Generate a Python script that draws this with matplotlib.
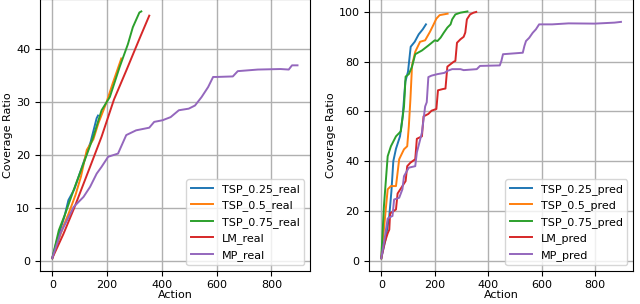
import matplotlib.pyplot as plt

# left panel: real coverage
tsp025_real_x = [0, 15, 30, 45, 59, 80, 100, 120, 140, 162, 167]
tsp025_real_y = [0.5, 3.5, 6.0, 8.5, 11.5, 13.5, 16.5, 19.5, 22.5, 27.0, 27.5]
tsp05_real_x = [0, 20, 40, 60, 85, 105, 126, 150, 168, 198, 220, 252]
tsp05_real_y = [0.5, 3.5, 6.5, 9.0, 12.5, 16.0, 21.0, 23.0, 26.0, 30.0, 33.5, 38.3]
tsp075_real_x = [0, 24, 48, 78, 114, 150, 180, 210, 246, 276, 294, 318, 325]
tsp075_real_y = [0.5, 5.8, 9.0, 13.4, 18.4, 23.5, 28.5, 31.0, 36.7, 41.0, 44.2, 47.0, 47.2]
lm_real_x = [0, 40, 80, 138, 180, 225, 270, 318, 354]
lm_real_y = [0.5, 5.0, 10.0, 17.8, 23.5, 30.5, 36.0, 42.0, 46.4]
mp_real_x = [0, 30, 54, 78, 114, 138, 162, 180, 204, 240, 270, 306, 354, 372, 402,
             432, 462, 498, 521, 545, 569, 587, 600, 659, 677, 750, 833, 863, 875, 895]
mp_real_y = [0.5, 5.2, 7.7, 10.2, 12.1, 14.0, 16.5, 17.8, 19.7, 20.3, 23.8, 24.7, 25.2,
             26.3, 26.6, 27.2, 28.5, 28.8, 29.4, 31.0, 32.9, 34.8, 34.8, 34.9, 35.9,
             36.2, 36.3, 36.2, 37.0, 37.0]

# right panel: predicted coverage
tsp025_pred_x = [0, 15, 30, 38, 45, 55, 70, 80, 90, 100, 110, 125, 140, 155, 167]
tsp025_pred_y = [1, 8, 18, 28, 40, 45, 50, 58, 72, 76, 86, 88, 91, 93, 95]
tsp05_pred_x = [0, 18, 24, 36, 55, 67, 85, 97, 103, 109, 115, 127, 145, 164, 182,
                194, 206, 218, 248]
tsp05_pred_y = [1, 22, 28.7, 30, 30, 40.8, 44.8, 46, 54, 65, 78.5, 84, 88, 88.6, 92,
                94.6, 97.3, 98.7, 99.3]
tsp075_pred_x = [0, 10, 24, 36, 55, 73, 85, 91, 103, 115, 127, 152, 176, 200, 210,
                 222, 234, 247, 259, 265, 277, 296, 322]
tsp075_pred_y = [1, 22, 42, 46, 50, 52, 62, 74, 75, 78, 83, 84.5, 86.5, 88.6, 88.3,
                 89.7, 91.7, 93.7, 95, 97, 99, 99.7, 100.2]
lm_pred_x = [0, 12, 24, 30, 33, 55, 61, 79, 91, 97, 109, 127, 133, 152, 158, 176,
             188, 206, 212, 230, 240, 247, 259, 271, 277, 283, 296, 308, 314, 320,
             332, 345, 355]
lm_pred_y = [1, 7, 11, 12.5, 19, 20.6, 27, 30, 32, 38, 39.4, 40.8, 49, 50, 58, 59,
             60.3, 61, 68.5, 69, 69.2, 78, 79, 80, 80.3, 87.6, 89, 90, 91.7, 97, 99,
             99.7, 100]
mp_pred_x = [0, 12, 24, 42, 48, 67, 79, 85, 103, 127, 133, 139, 152, 164, 170, 176,
             188, 210, 236, 247, 265, 296, 308, 357, 369, 443, 449, 455, 529, 535,
             541, 553, 566, 578, 590, 639, 700, 798, 872, 896]
mp_pred_y = [1, 8.5, 17, 18, 24.6, 25.3, 28.7, 34, 37.4, 38, 43.5, 46, 51.5, 62,
             63.7, 73.8, 74.4, 75, 75.5, 76.3, 77, 77, 76.6, 77, 78.3, 78.5, 80.3,
             83, 83.6, 86.3, 88.3, 89.6, 91.6, 93, 95, 95, 95.4, 95.3, 95.7, 96]

colors = ["#1f77b4", "#ff7f0e", "#2ca02c", "#d62728", "#9467bd"]
real_labels = ["TSP_0.25_real", "TSP_0.5_real", "TSP_0.75_real", "LM_real", "MP_real"]
pred_labels = ["TSP_0.25_pred", "TSP_0.5_pred", "TSP_0.75_pred", "LM_pred", "MP_pred"]

plt.rcParams["font.size"] = 8

fig = plt.figure(figsize=(6.4, 3.04), dpi=100)
ax1 = fig.add_axes([0.0625, 0.110, 0.4215, 0.893])
ax2 = fig.add_axes([0.577, 0.110, 0.412, 0.893])

real = [(tsp025_real_x, tsp025_real_y), (tsp05_real_x, tsp05_real_y),
        (tsp075_real_x, tsp075_real_y), (lm_real_x, lm_real_y),
        (mp_real_x, mp_real_y)]
pred = [(tsp025_pred_x, tsp025_pred_y), (tsp05_pred_x, tsp05_pred_y),
        (tsp075_pred_x, tsp075_pred_y), (lm_pred_x, lm_pred_y),
        (mp_pred_x, mp_pred_y)]

for ax, series, labels in [(ax1, real, real_labels), (ax2, pred, pred_labels)]:
    for (xs, ys), c, lab in zip(series, colors, labels):
        ax.plot(xs, ys, color=c, label=lab, lw=1.4)
    ax.grid(True, color="#b0b0b0", lw=1.0)
    ax.set_xlabel("Action", labelpad=0)
    ax.set_ylabel("Coverage Ratio", labelpad=2)
    ax.set_xticks([0, 200, 400, 600, 800])
    ax.legend(loc="lower right")

ax1.set_yticks([0, 10, 20, 30, 40])
ax2.set_yticks([0, 20, 40, 60, 80, 100])

fig.savefig("out.png", dpi=100)
